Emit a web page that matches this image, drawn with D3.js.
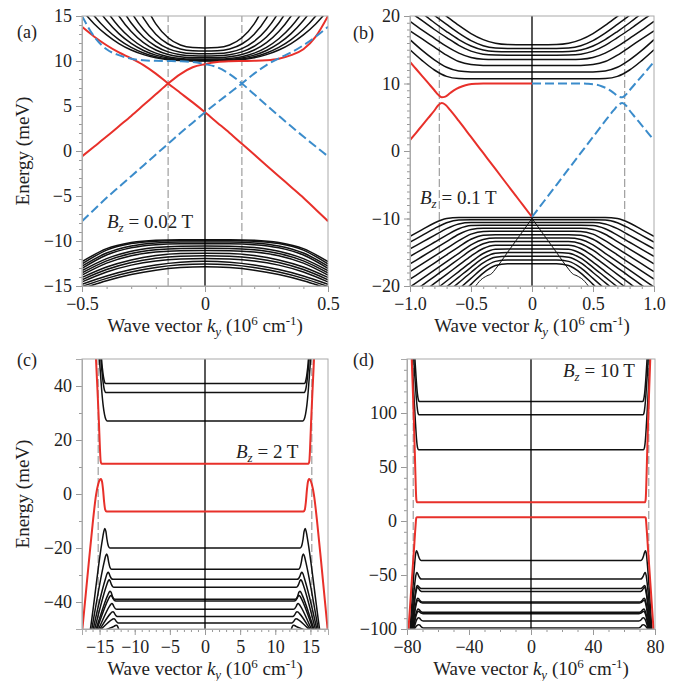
<!DOCTYPE html>
<html><head><meta charset="utf-8">
<script src="https://cdn.jsdelivr.net/npm/d3@7"></script>
<style>
body{margin:0;background:#fff}
svg{display:block}
text{font-family:"Liberation Serif","Times New Roman",serif;fill:#222}
.band{fill:none;stroke:#111;stroke-width:1.5}
.thin{fill:none;stroke:#111;stroke-width:1}
.red{fill:none;stroke:#e8302a;stroke-width:2}
.blue{fill:none;stroke:#3b8ccb;stroke-width:2;stroke-dasharray:9,4}
.guide{stroke:#8a8a8a;stroke-width:1;stroke-dasharray:8,3}
.zero{stroke:#000;stroke-width:1.3}
.frame{fill:none;stroke:#aaa;stroke-width:1}
</style>
</head><body>
<svg id="fig" width="681" height="681"></svg>
<script>
// ---------- Panel (a): Bz = 0.02 T ----------
// Landau levels of the conduction band, E (meV) on kGridA (10^6 cm^-1), k >= 0 half
const kGridA = [0, 0.05, 0.1, 0.15, 0.2, 0.25, 0.3, 0.35, 0.4, 0.45, 0.5];
const condA = [
  [11.45, 11.49, 11.78, 12.58, 14.12, 16.66],
  [11.1, 11.13, 11.34, 11.89, 12.98, 14.77, 17.45],
  [10.8, 10.82, 10.97, 11.38, 12.18, 13.49, 15.45, 18.18],
  [10.55, 10.57, 10.69, 11.01, 11.64, 12.67, 14.22, 16.38],
  [10.35, 10.36, 10.46, 10.72, 11.22, 12.04, 13.28, 15.0, 17.29],
  [10.2, 10.21, 10.28, 10.48, 10.87, 11.52, 12.47, 13.8, 15.59, 17.87],
  [10.1, 10.11, 10.17, 10.33, 10.65, 11.17, 11.95, 13.04, 14.49, 16.35],
  [10.04, 10.05, 10.09, 10.22, 10.48, 10.89, 11.51, 12.38, 13.52, 15.0, 16.85],
  [10.0, 10.01, 10.05, 10.15, 10.36, 10.71, 11.22, 11.94, 12.9, 14.12, 15.65]
];
// Valence-band Landau levels on kGridAv
const kGridAv = [0, 0.1, 0.2, 0.3, 0.4, 0.5];
const valA = [
  [-9.85, -9.85, -9.91, -10.17, -10.85, -12.3],
  [-9.95, -9.95, -10.02, -10.29, -11.02, -12.55],
  [-10.1, -10.11, -10.21, -10.55, -11.34, -12.8],
  [-10.3, -10.31, -10.41, -10.76, -11.56, -13.05],
  [-10.55, -10.57, -10.73, -11.14, -11.96, -13.3],
  [-10.8, -10.82, -10.98, -11.39, -12.21, -13.55],
  [-11.05, -11.07, -11.23, -11.64, -12.46, -13.8],
  [-11.35, -11.4, -11.62, -12.1, -12.89, -14.05],
  [-11.65, -11.7, -11.92, -12.39, -13.17, -14.3],
  [-11.95, -12.0, -12.21, -12.68, -13.44, -14.55],
  [-12.25, -12.35, -12.66, -13.17, -13.88, -14.8],
  [-12.55, -12.65, -12.95, -13.45, -14.15, -15.05],
  [-12.85, -12.95, -13.24, -13.73, -14.42, -15.3]
];
// Edge states [k, E]; the dashed branches are their k -> -k partners
const redA1 = [[-0.5,13.8],[-0.45,12.7],[-0.4,11.75],[-0.35,10.95],[-0.3,10.3],[-0.25,9.55],[-0.2,8.6],[-0.15,7.5],[-0.1,6.45],[-0.05,5.4],[0,4.3],[0.05,3.15],[0.1,2.0],[0.15,0.8],[0.2,-0.4],[0.25,-1.6],[0.3,-2.8],[0.35,-4.0],[0.4,-5.2],[0.45,-6.5],[0.5,-7.8]];
const redA2 = [[-0.5,-0.6],[-0.45,0.5],[-0.4,1.6],[-0.35,2.75],[-0.3,3.9],[-0.25,5.1],[-0.2,6.3],[-0.15,7.5],[-0.1,8.55],[-0.05,9.3],[0,9.65],[0.05,9.88],[0.1,9.97],[0.15,10.0],[0.2,10.02],[0.25,10.08],[0.3,10.25],[0.35,10.65],[0.4,11.3],[0.45,12.7],[0.5,15.0]];
const guidesA = [-0.15, 0.15];
const xTicksA = [-0.5, 0, 0.5];
const yTicksA = [-15, -10, -5, 0, 5, 10, 15];

// ---------- Panel (b): Bz = 0.1 T ----------
const kGridB = [0, 0.2, 0.3, 0.4, 0.5, 0.6, 0.7, 0.8, 0.9, 1.0];
const condB = [
  [10.7, 10.7, 10.7, 10.7, 10.7, 10.74, 11.05, 12.0, 13.4, 15.0],
  [11.7, 11.7, 11.7, 11.7, 11.72, 11.85, 12.4, 13.5, 14.9, 16.5],
  [12.65, 12.65, 12.65, 12.67, 12.8, 13.25, 14.2, 15.4, 16.6, 17.8],
  [13.55, 13.55, 13.56, 13.6, 13.85, 14.5, 15.5, 16.7, 17.9, 19.2],
  [14.2, 14.2, 14.22, 14.35, 14.8, 15.65, 16.8, 18.0, 19.3, 20.6],
  [14.7, 14.7, 14.74, 14.95, 15.55, 16.5, 17.7, 19.0, 20.4, 21.8],
  [15.2, 15.2, 15.27, 15.6, 16.35, 17.45, 18.75, 20.1, 21.5, 22.9],
  [15.75, 15.77, 15.95, 16.5, 17.4, 18.6, 19.95, 21.3, 22.7, 24.1]
];
const kGridBv = [0, 0.1, 0.2, 0.3, 0.4, 0.5, 0.6, 0.7, 0.8, 0.9, 1.0];
const valB = [
  [-9.85, -9.85, -9.85, -9.85, -9.85, -9.85, -9.85, -10.01, -10.66, -11.65, -12.65],
  [-10.2, -10.2, -10.2, -10.2, -10.2, -10.2, -10.22, -10.62, -11.5, -12.5, -13.5],
  [-10.6, -10.6, -10.6, -10.6, -10.6, -10.6, -10.8, -11.5, -12.5, -13.5, -14.5],
  [-11.0, -11.0, -11.0, -11.0, -11.0, -11.04, -11.51, -12.47, -13.52, -14.57, -15.62],
  [-11.45, -11.45, -11.45, -11.45, -11.45, -11.63, -12.34, -13.43, -14.53, -15.63, -16.73],
  [-11.9, -11.9, -11.9, -11.9, -11.91, -12.31, -13.28, -14.43, -15.58, -16.73, -17.88],
  [-12.4, -12.4, -12.4, -12.4, -12.48, -13.08, -14.2, -15.4, -16.6, -17.8, -19.0],
  [-12.9, -12.9, -12.9, -12.9, -13.1, -13.91, -15.15, -16.4, -17.65, -18.9, -20.15],
  [-13.4, -13.4, -13.4, -13.4, -13.73, -14.7, -16.0, -17.3, -18.6, -19.9, -21.2],
  [-13.95, -13.95, -13.95, -13.96, -14.44, -15.57, -16.92, -18.27, -19.62, -20.97],
  [-14.5, -14.5, -14.5, -14.56, -15.19, -16.46, -17.86, -19.26, -20.66],
  [-15.05, -15.05, -15.05, -15.14, -15.87, -17.23, -18.68, -20.13],
  [-15.6, -15.6, -15.6, -15.74, -16.56, -18.0, -19.5, -21.0],
  [-16.15, -16.15, -16.15, -16.35, -17.31, -18.87, -20.47],
  [-16.7, -16.7, -16.7, -16.97, -18.08, -19.76, -21.46]
];
// Thin branch leaving the Dirac point at (0, -10)
const vBranchB = [[0,-10.0],[0.1,-12.5],[0.2,-15.0],[0.3,-17.5],[0.33,-18.15],[0.37,-18.5],[0.42,-19.1],[0.47,-20.2],[0.5,-21]];
const redB1 = [[-1.0,13.2],[-0.95,12.15],[-0.9,11.1],[-0.85,10.05],[-0.8,9.0],[-0.77,8.35],[-0.74,7.95],[-0.71,8.05],[-0.67,8.6],[-0.62,9.2],[-0.57,9.6],[-0.52,9.85],[-0.45,9.97],[-0.4,10.0],[0,10.0]];
const redB2 = [[-1.0,1.6],[-0.95,2.7],[-0.9,3.8],[-0.85,4.9],[-0.8,6.0],[-0.77,6.75],[-0.74,7.1],[-0.71,6.85],[-0.67,6.05],[-0.6,4.45],[-0.5,2.08],[-0.4,-0.29],[-0.3,-2.66],[-0.2,-5.04],[-0.1,-7.41],[0,-9.78]];
const guidesB = [-0.76, 0.76];
const xTicksB = [-1.0, -0.5, 0, 0.5, 1.0];
const yTicksB = [-20, -10, 0, 10, 20];

// ---------- Panel (c): Bz = 2 T ----------  half-curves [k, E], k >= 0
const condC = [
  [[0,27.05],[13.9,27.05],[14.1,27.6],[14.3,29.5],[14.5,33],[14.7,38.5],[14.9,45.5],[15.05,51],[15.2,57]],
  [[0,37.6],[14.1,37.6],[14.3,38.4],[14.45,40.5],[14.6,43.8],[14.75,48],[14.9,53]],
  [[0,40.9],[14.15,40.9],[14.3,41.6],[14.45,43.5],[14.6,46.5],[14.75,51]]
];
const valC = [
  [[0,-20],[13.55,-20],[13.75,-19.28],[13.95,-16.76],[14.1,-13.88],[14.25,-12.8],[14.4,-13.92],[14.6,-16.9],[16.3,-50],[16.7,-57]],
  [[0,-27.9],[13.3,-27.9],[13.5,-27.33],[13.7,-25.34],[13.85,-23.06],[14.0,-22.2],[14.15,-23.03],[14.35,-25.26],[16.1,-50],[16.5,-56]],
  [[0,-31.6],[13.1,-31.6],[13.3,-31.34],[13.5,-30.43],[13.65,-29.39],[13.8,-29.0],[13.95,-29.63],[14.15,-31.31],[15.9,-50],[16.3,-55]],
  [[0,-34.5],[12.95,-34.5],[13.15,-34.23],[13.35,-33.29],[13.5,-32.2],[13.65,-31.8],[13.8,-32.35],[14.0,-33.8],[15.7,-50],[16.1,-54]],
  [[0,-39],[12.8,-39],[13.0,-38.7],[13.2,-37.65],[13.35,-36.45],[13.5,-36],[13.65,-36.42],[13.85,-37.54],[15.5,-50],[15.9,-53]],
  [[0,-39.6],[12.7,-39.6],[12.9,-39.4],[13.1,-38.7],[13.25,-37.9],[13.4,-37.6],[13.55,-37.97],[13.75,-38.96],[15.35,-50],[15.75,-53]],
  [[0,-42.7],[12.55,-42.7],[12.75,-42.49],[12.95,-41.76],[13.1,-40.92],[13.25,-40.6],[13.4,-40.88],[13.6,-41.63],[15.15,-50],[15.55,-52]],
  [[0,-45.4],[12.4,-45.4],[12.6,-45.22],[12.8,-44.59],[12.95,-43.87],[13.1,-43.6],[13.25,-43.79],[13.45,-44.3],[14.95,-50],[15.35,-51.5]],
  [[0,-47.8],[12.25,-47.8],[12.45,-47.64],[12.65,-47.08],[12.8,-46.44],[12.95,-46.2],[13.1,-46.31],[13.3,-46.62],[14.75,-50],[15.15,-51]],
  [[0,-51],[11.9,-51],[12.1,-50.76],[12.3,-49.92],[12.45,-48.96],[12.6,-48.6],[12.75,-48.7],[12.95,-49.0],[14.5,-51],[14.9,-52]]
];
const redC1 = [[0,11.2],[14.6,11.2],[14.75,11.35],[14.85,12.3],[14.95,17],[15.1,27],[15.3,38.5],[15.5,49.5],[15.6,55]];
const redC2 = [[0,-6.5],[14.0,-6.5],[14.2,-5.8],[14.35,-3.0],[14.5,1.5],[14.65,4.6],[14.8,5.6],[14.95,5.3],[15.2,3.6],[15.5,-0.3],[16,-11.5],[16.5,-24.5],[17,-38],[17.5,-51.5],[17.8,-60]];
const guidesC = [-15.2, 15.2];
const xTicksC = [-15, -10, -5, 0, 5, 10, 15];
const yTicksC = [-40, -20, 0, 20, 40];

// ---------- Panel (d): Bz = 10 T ----------
const condD = [
  [[0,65.9],[72.5,65.9],[73.2,68],[73.8,75],[74.5,90],[75.3,110],[76.2,135],[77,160]],
  [[0,98.3],[72.3,98.3],[72.9,100],[73.5,106],[74.2,118],[75,135],[75.8,155]],
  [[0,110.7],[72.1,110.7],[72.7,112.5],[73.3,118],[74,130],[74.8,148],[75.3,160]]
];
const valD = [
  [[0,-36.5],[70.9,-36.5],[71.7,-35.6],[72.6,-32.45],[73.3,-28.85],[73.9,-27.5],[74.5,-31.1],[75.2,-42],[78,-100],[79.5,-127]],
  [[0,-53.7],[70.7,-53.7],[71.5,-53.11],[72.4,-51.05],[73.1,-48.7],[73.7,-47.8],[74.3,-50.4],[75.0,-58.2],[77.6,-100],[79.1,-124]],
  [[0,-62.6],[70.4,-62.6],[71.2,-62.32],[72.1,-61.34],[72.8,-60.22],[73.4,-59.8],[74.0,-61.8],[74.7,-67.8],[77.2,-100],[78.7,-120]],
  [[0,-65.3],[70.3,-65.3],[71.1,-64.92],[72.0,-63.59],[72.7,-62.07],[73.3,-61.5],[73.9,-63.4],[74.6,-69.2],[77.0,-100],[78.5,-119]],
  [[0,-75],[70.1,-75],[70.9,-74.65],[71.8,-73.43],[72.5,-72.03],[73.1,-71.5],[73.7,-72.9],[74.4,-77.2],[76.7,-100],[78.2,-114]],
  [[0,-75.9],[70.0,-75.9],[70.8,-75.64],[71.7,-74.73],[72.4,-73.69],[73.0,-73.3],[73.6,-74.6],[74.3,-78.6],[76.5,-100],[78,-113]],
  [[0,-84.6],[69.8,-84.6],[70.6,-84.29],[71.5,-83.2],[72.2,-81.97],[72.8,-81.5],[73.4,-82.4],[74.1,-85.2],[76.2,-100],[77.7,-109]],
  [[0,-85.8],[69.7,-85.8],[70.5,-85.57],[71.4,-84.77],[72.1,-83.85],[72.7,-83.5],[73.3,-84.3],[74.0,-86.8],[76.0,-100],[77.5,-108]],
  [[0,-92.6],[69.5,-92.6],[70.3,-92.29],[71.2,-91.2],[71.9,-89.97],[72.5,-89.5],[73.1,-90.0],[73.8,-91.6],[75.7,-100],[77.2,-105]],
  [[0,-99],[69.3,-99],[70.1,-98.7],[71.0,-97.65],[71.7,-96.45],[72.3,-96],[72.9,-96.2],[73.6,-96.8],[75.4,-100],[76.9,-102]]
];
const redD1 = [[0,17.4],[73.6,17.4],[74.0,20],[74.3,30],[74.8,55],[75.5,90],[76.5,132],[77.2,160]];
const redD2 = [[0,3.5],[73.5,3.5],[74.0,3],[74.3,-1],[74.8,-11],[75.5,-26],[76.5,-47],[77.5,-68],[78.5,-89],[79.5,-110]];
const guidesD = [-76, 76];
const xTicksD = [-80, -40, 0, 40, 80];
const yTicksD = [-100, -50, 0, 50, 100];

// ---------- helpers ----------
const onGrid = (grid, vals) => vals.map((E, i) => [grid[i], E]);
// symmetric band from its k >= 0 half
const mirror = half => half.slice(1).map(([k, E]) => [-k, E]).reverse().concat(half);
// partner branch under k -> -k
const flipK = pts => pts.map(([k, E]) => [-k, E]).reverse();

const fmt1 = d => d === 0 ? "0" : d3.format(".1f")(d);
const fmtInt = d3.format("d");

const svg = d3.select("#fig");

function rich(sel, parts) {
  parts.forEach(p => {
    const t = sel.append("tspan").text(p.t);
    if (p.i) t.attr("font-style", "italic");
    if (p.s) t.attr("font-size", p.s);
    if (p.dy) t.attr("dy", p.dy);
  });
}

const xTitleParts = [
  {t: "Wave vector "}, {t: "k", i: 1}, {t: "y", i: 1, s: 13, dy: 4},
  {t: " (10", dy: -4}, {t: "6", s: 13, dy: -7}, {t: " cm", dy: 7},
  {t: "-1", s: 13, dy: -7}, {t: ")", dy: 7}
];

function drawPanel(p) {
  const b = p.box;
  const x = d3.scaleLinear().domain(p.kDomain).range([b.left, b.right]);
  const y = d3.scaleLinear().domain(p.eDomain).range([b.bottom, b.top]);
  const g = svg.append("g");

  g.append("clipPath").attr("id", "clip-" + p.id).append("rect")
    .attr("x", b.left).attr("y", b.top)
    .attr("width", b.right - b.left).attr("height", b.bottom - b.top);

  const plot = g.append("g").attr("clip-path", `url(#clip-${p.id})`);
  const line = d3.line().x(d => x(d[0])).y(d => y(d[1])).curve(d3.curveMonotoneX);

  p.guides.forEach(k => plot.append("line").attr("class", "guide")
    .attr("x1", x(k)).attr("x2", x(k)).attr("y1", y(p.eDomain[0])).attr("y2", y(p.eDomain[1])));

  p.curves.forEach(c => plot.append("path").attr("class", c.kind).attr("d", line(c.pts)));

  plot.append("line").attr("class", "zero")
    .attr("x1", x(0)).attr("x2", x(0)).attr("y1", y(p.eDomain[0])).attr("y2", y(p.eDomain[1]));

  p.edges.forEach(c => plot.append("path").attr("class", c.kind).attr("d", line(c.pts)));

  // axes
  const styleAxis = s => {
    s.attr("font-family", null).attr("font-size", null);
    s.selectAll(".domain").attr("stroke", "#aaa");
    s.selectAll(".tick line").attr("stroke", "#999");
    s.selectAll(".tick text").attr("fill", "#222").attr("font-size", 18);
  };
  g.append("g").attr("transform", `translate(0,${b.bottom})`)
    .call(d3.axisBottom(x).tickValues(p.xMinor).tickSize(3).tickFormat("")).call(styleAxis);
  g.append("g").attr("transform", `translate(0,${b.bottom})`)
    .call(d3.axisBottom(x).tickValues(p.xTicks).tickSize(6).tickPadding(5).tickFormat(p.xFmt)).call(styleAxis);
  g.append("g").attr("transform", `translate(${b.left},0)`)
    .call(d3.axisLeft(y).tickValues(p.yMinor).tickSize(3).tickFormat("")).call(styleAxis);
  g.append("g").attr("transform", `translate(${b.left},0)`)
    .call(d3.axisLeft(y).tickValues(p.yTicks).tickSize(6).tickPadding(4).tickFormat(fmtInt)).call(styleAxis);

  g.append("rect").attr("class", "frame")
    .attr("x", b.left).attr("y", b.top).attr("width", b.right - b.left).attr("height", b.bottom - b.top);

  // labels
  g.append("text").attr("x", p.letter[0]).attr("y", p.letter[1]).attr("font-size", 18).text(`(${p.id})`);
  const bz = g.append("text").attr("x", p.bzPos[0]).attr("y", p.bzPos[1]).attr("font-size", 19);
  rich(bz, [{t: "B", i: 1}, {t: "z", i: 1, s: 13, dy: 4}, {t: ` = ${p.bz} T`, dy: -4}]);

  const xt = g.append("text").attr("x", (b.left + b.right) / 2).attr("y", p.xTitleY)
    .attr("text-anchor", "middle").attr("font-size", 19);
  rich(xt, xTitleParts);

  if (p.yTitle) {
    g.append("text").attr("transform", `translate(29,${(b.top + b.bottom) / 2}) rotate(-90)`)
      .attr("text-anchor", "middle").attr("font-size", 19).text("Energy (meV)");
  }
}

const bandsOnGrid = (grid, rows) => rows.map(r => ({kind: "band", pts: mirror(onGrid(grid, r))}));
const bandsHalf = rows => rows.map(r => ({kind: "band", pts: mirror(r)}));

const panels = [
  {
    id: "a", box: {left: 82, right: 328, top: 16, bottom: 286},
    kDomain: [-0.5, 0.5], eDomain: [-15, 15],
    xTicks: xTicksA, xMinor: d3.range(-5, 6).map(i => i / 10), xFmt: fmt1,
    yTicks: yTicksA, yMinor: d3.range(-15, 16),
    guides: guidesA,
    curves: [...bandsOnGrid(kGridA, condA), ...bandsOnGrid(kGridAv, valA)],
    edges: [
      {kind: "red", pts: redA1}, {kind: "red", pts: redA2},
      {kind: "blue", pts: flipK(redA1)}, {kind: "blue", pts: flipK(redA2)}
    ],
    letter: [17, 38], bz: "0.02", bzPos: [107, 228], xTitleY: 332, yTitle: true
  },
  {
    id: "b", box: {left: 410, right: 654, top: 16, bottom: 286},
    kDomain: [-1, 1], eDomain: [-20, 20],
    xTicks: xTicksB, xMinor: d3.range(-10, 11).map(i => i / 10), xFmt: fmt1,
    yTicks: yTicksB, yMinor: d3.range(-20, 21),
    guides: guidesB,
    curves: [
      ...bandsOnGrid(kGridB, condB), ...bandsOnGrid(kGridBv, valB),
      {kind: "thin", pts: vBranchB}, {kind: "thin", pts: flipK(vBranchB)}
    ],
    edges: [
      {kind: "red", pts: redB1}, {kind: "red", pts: redB2},
      {kind: "blue", pts: flipK(redB1)}, {kind: "blue", pts: flipK(redB2)}
    ],
    letter: [353, 39], bz: "0.1", bzPos: [420, 204], xTitleY: 332, yTitle: false
  },
  {
    id: "c", box: {left: 82, right: 328, top: 359, bottom: 629},
    kDomain: [-17.5, 17.5], eDomain: [-50, 50],
    xTicks: xTicksC, xMinor: d3.range(-17, 18), xFmt: fmtInt,
    yTicks: yTicksC, yMinor: d3.range(-50, 51, 10),
    guides: guidesC,
    curves: [...bandsHalf(condC), ...bandsHalf(valC)],
    edges: [{kind: "red", pts: mirror(redC1)}, {kind: "red", pts: mirror(redC2)}],
    letter: [17, 366], bz: "2", bzPos: [236, 458], xTitleY: 675, yTitle: true
  },
  {
    id: "d", box: {left: 407, right: 655, top: 359, bottom: 629},
    kDomain: [-80, 80], eDomain: [-100, 150],
    xTicks: xTicksD, xMinor: d3.range(-80, 81, 10), xFmt: fmtInt,
    yTicks: yTicksD, yMinor: d3.range(-100, 151, 10),
    guides: guidesD,
    curves: [...bandsHalf(condD), ...bandsHalf(valD)],
    edges: [{kind: "red", pts: mirror(redD1)}, {kind: "red", pts: mirror(redD2)}],
    letter: [353, 366], bz: "10", bzPos: [563, 377], xTitleY: 675, yTitle: false
  }
];

panels.forEach(drawPanel);
</script>
</body></html>
